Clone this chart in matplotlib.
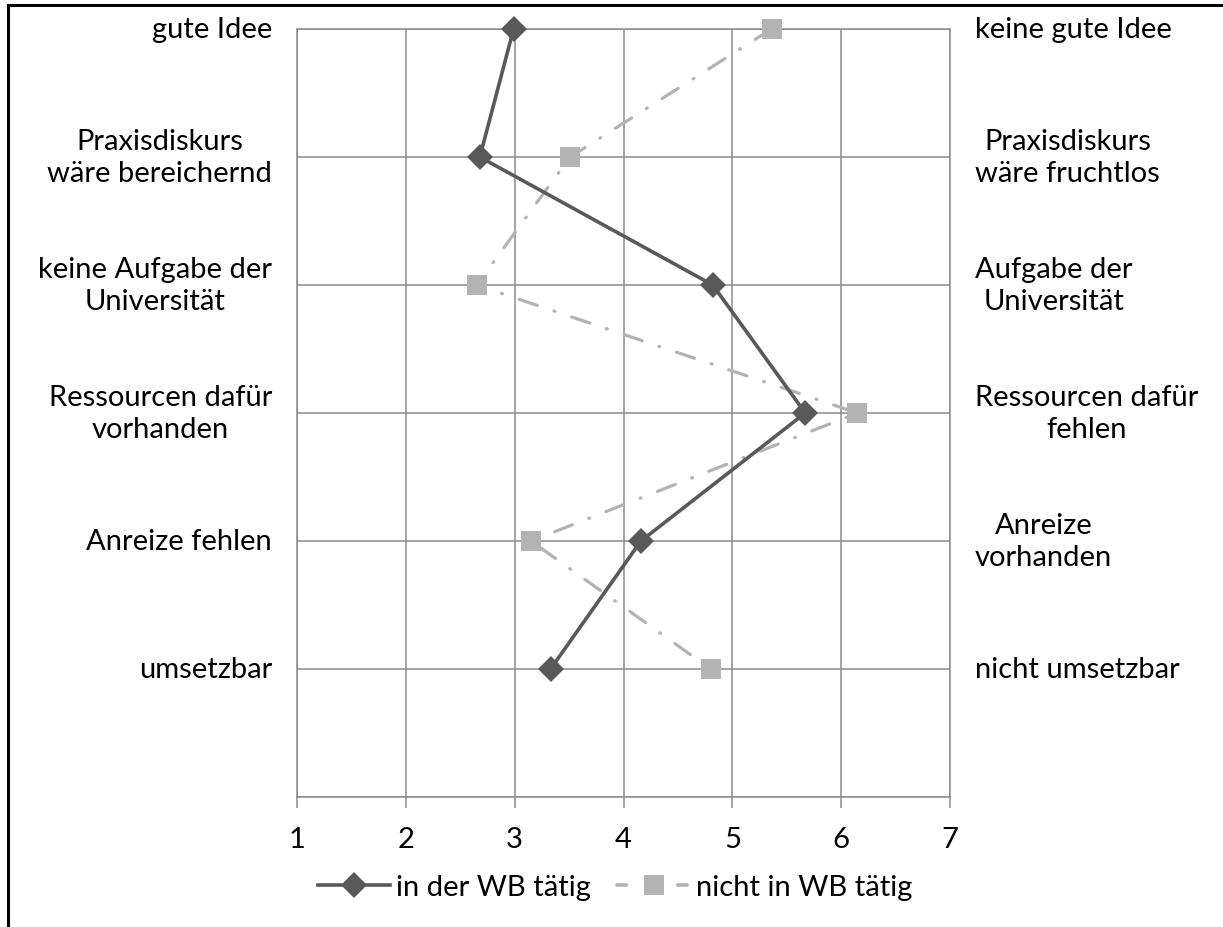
import matplotlib
matplotlib.use("Agg")
import matplotlib.pyplot as plt
from matplotlib.lines import Line2D

plt.rcParams['font.family'] = ['Lato', 'DejaVu Sans']

left_labels = ["gute Idee", "Praxisdiskurs\nwäre bereichernd", "keine Aufgabe der\nUniversität",
               "Ressourcen dafür\nvorhanden", "Anreize fehlen", "umsetzbar"]
right_labels = ["keine gute Idee", "Praxisdiskurs\nwäre fruchtlos", "Aufgabe der\nUniversität",
                "Ressourcen dafür\nfehlen", "Anreize\nvorhanden", "nicht umsetzbar"]
rows = [6, 5, 4, 3, 2, 1]
wb_taetig = [2.99, 2.68, 4.82, 5.67, 4.16, 3.33]
nicht_wb = [5.36, 3.51, 2.65, 6.15, 3.15, 4.80]
x_ticks = [1, 2, 3, 4, 5, 6, 7]

dark = "#595959"
light = "#b3b3b3"
grid_c = "#8c8c8c"
FS = 21

fig = plt.figure(figsize=(12.23, 9.28), dpi=100)
W, H = 1223, 928
ax = fig.add_axes([297 / W, 1 - 798 / H, (950 - 297) / W, (798 - 30) / H])
ax.set_xlim(1, 7)
ax.set_ylim(0, 6)
ax.set_xticks(x_ticks)
ax.set_yticks(range(0, 7))
ax.set_yticklabels([])
ax.grid(True, color=grid_c, linewidth=1.1)
for s in ax.spines.values():
    s.set_color(grid_c)
    s.set_linewidth(1.1)
ax.tick_params(axis='x', colors=grid_c, length=8, width=1.1, labelcolor='black',
               labelsize=FS, pad=13)
ax.tick_params(axis='y', length=0)

ax.plot(nicht_wb, rows, color=light, linewidth=2.3, linestyle=(0, (6, 5.5, 0.3, 5.5)),
        dash_capstyle='round', marker='s', markersize=15, markeredgewidth=0,
        clip_on=False, zorder=3, label="nicht in WB tätig")
ax.plot(wb_taetig, rows, color=dark, linewidth=2.6, marker='D', markersize=13,
        markeredgewidth=0, clip_on=False, zorder=4, label="in der WB tätig")

for r, lab in zip(rows, left_labels):
    ax.annotate(lab, xy=(0, r), xycoords=('axes fraction', 'data'), xytext=(-18, 0),
                textcoords='offset points', ha='right', va='center', multialignment='center',
                fontsize=FS, linespacing=1.3, annotation_clip=False)
for r, lab in zip(rows, right_labels):
    ax.annotate(lab, xy=(1, r), xycoords=('axes fraction', 'data'), xytext=(18, 0),
                textcoords='offset points', ha='left', va='center', multialignment='center',
                fontsize=FS, linespacing=1.3, annotation_clip=False)

handles = [Line2D([], [], color=dark, linewidth=2.6, marker='D', markersize=13, markeredgewidth=0),
           Line2D([], [], color=light, linewidth=2.6, linestyle=(0, (2.6, 14.2)),
                  dash_capstyle='round', marker='s', markersize=15, markeredgewidth=0)]
fig.legend(handles, ["in der WB tätig", "nicht in WB tätig"], loc='center',
           bbox_to_anchor=(615 / W, 1 - 888 / H), ncol=2, frameon=False, fontsize=FS,
           handlelength=2.5, handletextpad=0.2, columnspacing=0.9)

fig.add_artist(Line2D([8 / W, 8 / W], [0, 1 - 6 / H], transform=fig.transFigure,
                      color='black', linewidth=2.2))
fig.add_artist(Line2D([8 / W, 1], [1 - 6 / H, 1 - 6 / H], transform=fig.transFigure,
                      color='black', linewidth=2.2))

fig.savefig("out.png", dpi=100)
